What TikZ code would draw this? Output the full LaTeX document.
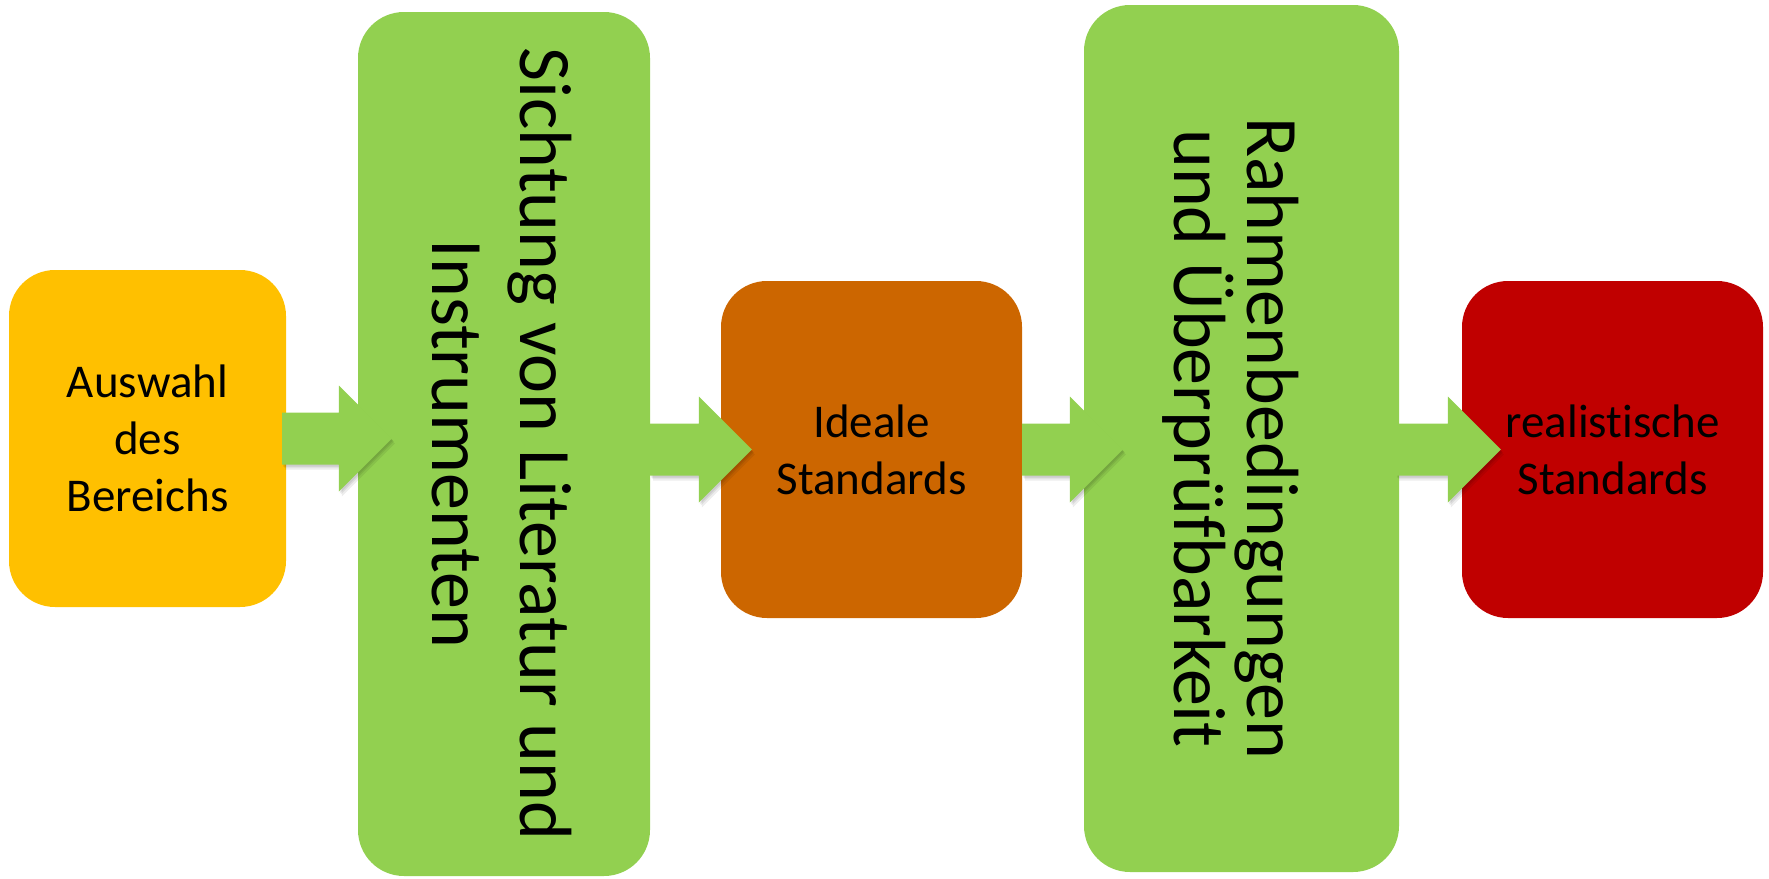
\documentclass[tikz,border=0pt]{standalone}
\usepackage{fontspec}
\setmainfont{Carlito}[Ligatures={NoCommon}]
\usetikzlibrary{calc}
\definecolor{cyellow}{HTML}{FFC000}
\definecolor{cgreen}{HTML}{92D050}
\definecolor{corange}{HTML}{CC6600}
\definecolor{cred}{HTML}{C00000}
\tikzset{
  box/.style={rounded corners=46pt, inner sep=0pt, draw=none, align=center,
    text=black},
  smalltext/.style={font=\fontsize{47}{57}\selectfont},
  vtext/.style={rotate=-90, inner sep=0pt, align=center, text=black},
  arrfill/.style={fill=cgreen},
  arrshadow/.style={fill=black, opacity=0.07},
}
\newcommand\arrowpath[4]{% start, tip, dx, dy
  let \p1=(#1), \p2=(#2) in
    (\x1+#3,\y1+26pt+#4) -- (\x2-53pt+#3,\y1+26pt+#4) -- (\x2-53pt+#3,\y1+53pt+#4)
    -- (\x2+#3,\y1+#4) -- (\x2-53pt+#3,\y1-53pt+#4) -- (\x2-53pt+#3,\y1-26pt+#4)
    -- (\x1+#3,\y1-26pt+#4) -- cycle}
\newcommand\blockarrow[2]{%
  \fill[arrshadow] \arrowpath{#1}{#2}{1pt}{-2pt};
  \fill[arrshadow] \arrowpath{#1}{#2}{2pt}{-3pt};
  \fill[arrshadow] \arrowpath{#1}{#2}{3pt}{-5pt};
  \fill[arrfill] \arrowpath{#1}{#2}{0pt}{0pt};
}
\begin{document}
\begin{tikzpicture}[x=1pt,y=-1pt]
\useasboundingbox (0,0) rectangle (1769,878);
\node[box, fill=cyellow, minimum width=277, minimum height=337, smalltext]
  (yellow) at (147.5,438.5) {Auswahl\\des\\Bereichs};
\node[box, fill=cgreen, minimum width=292, minimum height=864]
  (green1) at (504,444) {};
\node[vtext, font=\fontsize{74}{88}\selectfont] (green1text)
  at ($(green1.center)+(-2,0)$) {Sichtung von Literatur und\\Instrumenten};
\node[box, fill=corange, minimum width=301, minimum height=337, smalltext]
  (orange) at (871.5,449.5) {Ideale\\Standards};
\node[box, fill=cgreen, minimum width=315, minimum height=867]
  (green2) at (1241.5,438.5) {};
\node[vtext, font=\fontsize{74}{72}\selectfont] (green2text)
  at ($(green2.center)+(-11,0)$) {Rahmenbedingungen\\und Überprüfbarkeit};
\node[box, fill=cred, minimum width=301, minimum height=337, smalltext]
  (red) at (1612.5,449.5) {realistische\\Standards};
\coordinate (a1s) at ($(yellow.east)+(-4,0)$);
\coordinate (a1t) at ($(yellow.east -| green1.west)+(34,0)$);
\coordinate (a2s) at (orange.west -| green1.east);
\coordinate (a2t) at ($(orange.west)+(31,0)$);
\coordinate (a3s) at (orange.east);
\coordinate (a3t) at ($(orange.east -| green2.west)+(39,0)$);
\coordinate (a4s) at ($(red.west -| green2.east)+(-3,0)$);
\coordinate (a4t) at ($(red.west)+(39,0)$);
\blockarrow{a1s}{a1t}
\blockarrow{a2s}{a2t}
\blockarrow{a3s}{a3t}
\blockarrow{a4s}{a4t}
\end{tikzpicture}
\end{document}
